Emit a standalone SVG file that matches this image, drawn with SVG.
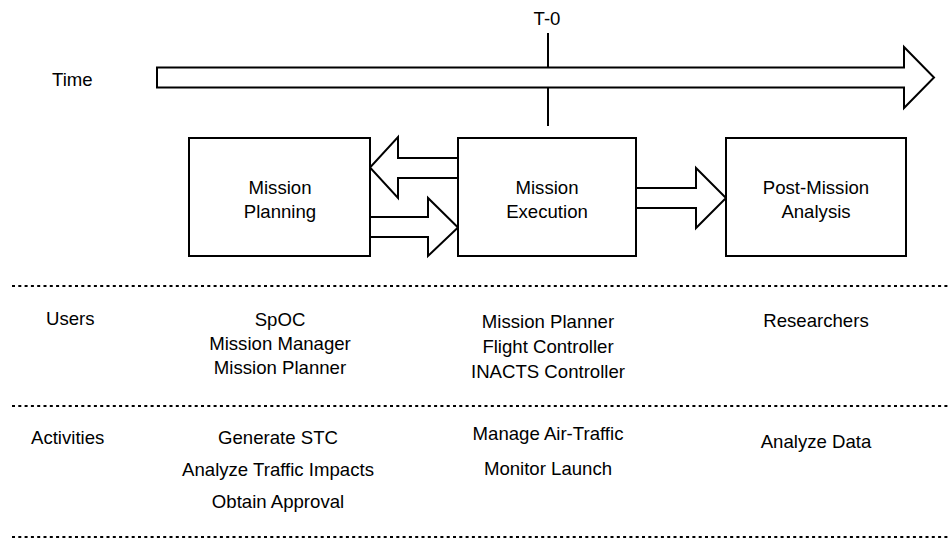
<svg xmlns="http://www.w3.org/2000/svg" width="949" height="540" viewBox="0 0 949 540">
<style>
text{font-family:"Liberation Sans",Arial,sans-serif;font-size:18.6px;fill:#000}
.c{text-anchor:middle}
.shape{fill:#fff;stroke:#000;stroke-width:2}
.line{fill:none;stroke:#000;stroke-width:2}
.dot{fill:none;stroke:#000;stroke-width:2;stroke-dasharray:3 3.3}
</style>
<rect width="949" height="540" fill="#fff"/>
<g id="timeline">
<line class="line" x1="548" y1="33" x2="548" y2="126"/>
<polygon class="shape" points="157,67.5 904,67.5 904,47 934,77.5 904,108 904,87.5 157,87.5"/>
<text class="c" x="547" y="25">T-0</text>
<text x="52" y="86">Time</text>
</g>
<g id="connectors">
<polygon class="shape" points="458,158 398,158 398,137 370,167.5 398,198 398,178 458,178"/>
<polygon class="shape" points="370,217 428,217 428,198 458,227.5 428,256 428,237 370,237"/>
<polygon class="shape" points="636,188 696,188 696,168 726,198 696,228 696,208 636,208"/>
</g>
<g id="mission-planning">
<rect class="shape" x="189" y="138" width="181" height="118"/>
<text class="c" x="280" y="194">Mission</text>
<text class="c" x="280" y="218">Planning</text>
</g>
<g id="mission-execution">
<rect class="shape" x="458" y="138" width="178" height="118"/>
<text class="c" x="547" y="194">Mission</text>
<text class="c" x="547" y="218">Execution</text>
</g>
<g id="post-mission">
<rect class="shape" x="726" y="138" width="180" height="118"/>
<text class="c" x="816" y="194">Post-Mission</text>
<text class="c" x="816" y="218">Analysis</text>
</g>
<g id="separators">
<line class="dot" x1="12" y1="286" x2="949" y2="286"/>
<line class="dot" x1="12" y1="406" x2="949" y2="406"/>
<line class="dot" x1="12" y1="537" x2="949" y2="537"/>
</g>
<g id="users">
<text x="46" y="325">Users</text>
<text class="c" x="280" y="326">SpOC</text>
<text class="c" x="280" y="350">Mission Manager</text>
<text class="c" x="280" y="374">Mission Planner</text>
<text class="c" x="548" y="328">Mission Planner</text>
<text class="c" x="548" y="353">Flight Controller</text>
<text class="c" x="548" y="378">INACTS Controller</text>
<text class="c" x="816" y="327">Researchers</text>
</g>
<g id="activities">
<text x="31" y="444">Activities</text>
<text class="c" x="278" y="444">Generate STC</text>
<text class="c" x="278" y="476">Analyze Traffic Impacts</text>
<text class="c" x="278" y="508">Obtain Approval</text>
<text class="c" x="548" y="440">Manage Air-Traffic</text>
<text class="c" x="548" y="475">Monitor Launch</text>
<text class="c" x="816" y="448">Analyze Data</text>
</g>
</svg>
